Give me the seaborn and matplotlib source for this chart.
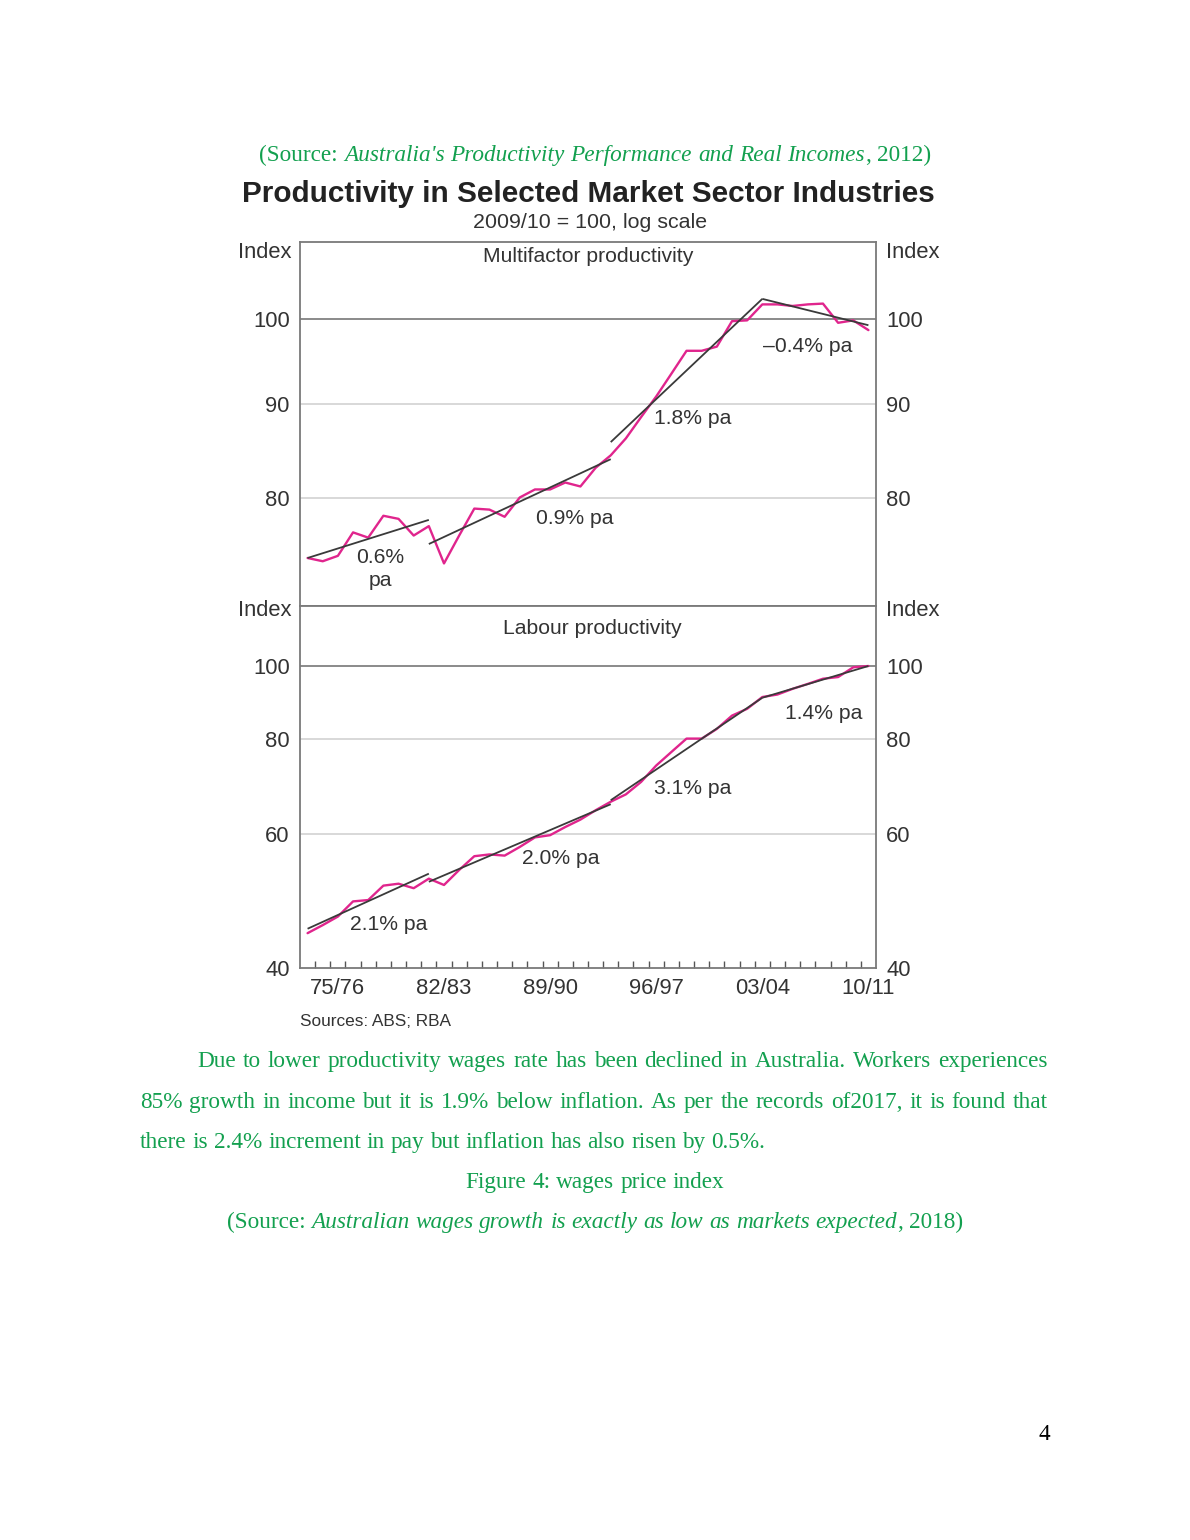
import numpy as np
import pandas as pd
import matplotlib
matplotlib.use("Agg")
import matplotlib.pyplot as plt
import seaborn as sns
from matplotlib.ticker import NullLocator

# ---------------- data ----------------
years = list(range(1973, 2011))          # fiscal-year start: 73/74 ... 10/11
mfp = [74.3, 74.0, 74.5, 76.7, 76.2, 78.3, 78.0, 76.4, 77.3, 73.8,
       76.4, 79.0, 78.9, 78.2, 80.1, 80.9, 80.9, 81.6, 81.2, 83.1,
       84.4, 86.2, 88.5, 90.8, 93.4, 96.1, 96.1, 96.6, 99.7, 99.8,
       101.8, 101.8, 101.6, 101.8, 101.9, 99.5, 99.8, 98.6]
labour = [44.4, 45.5, 46.7, 48.9, 49.1, 51.3, 51.6, 50.9, 52.4, 51.4,
          53.8, 56.1, 56.4, 56.2, 57.7, 59.4, 59.8, 61.3, 62.7, 64.5,
          66.2, 67.7, 70.3, 73.9, 77.0, 80.2, 80.2, 82.6, 86.0, 87.8,
          91.0, 91.7, 93.3, 94.7, 96.2, 96.7, 99.6, 100.0]

mfp_trend_start = [1973, 1981, 1993, 2003]
mfp_trend_end = [1981, 1993, 2003, 2010]
mfp_trend_v0 = [74.3, 75.6, 85.8, 102.5]
mfp_trend_v1 = [77.9, 84.0, 102.5, 99.2]
mfp_trend_labels = ["0.6%\npa", "0.9% pa", "1.8% pa", "\u20130.4% pa"]

lab_trend_start = [1973, 1981, 1993, 2003]
lab_trend_end = [1981, 1993, 2003, 2010]
lab_trend_v0 = [45.0, 51.9, 66.5, 90.8]
lab_trend_v1 = [53.2, 65.7, 90.8, 100.0]
lab_trend_labels = ["2.1% pa", "2.0% pa", "3.1% pa", "1.4% pa"]

mfp_yticks = [80, 90, 100]
lab_yticks = [40, 60, 80, 100]
xtick_years = [1975, 1982, 1989, 1996, 2003, 2010]
xtick_labels = ["75/76", "82/83", "89/90", "96/97", "03/04", "10/11"]

# ---------------- style ----------------
sns.set_theme(style="white")
plt.rcParams["font.family"] = ["Liberation Sans", "DejaVu Sans"]

W, H = 1190, 1540
fig = plt.figure(figsize=(W / 100, H / 100), dpi=100)
fig.patch.set_facecolor("white")
renderer = fig.canvas.get_renderer()

GREEN = "#13a04f"
PINK = "#e0258d"
DARK = "#333333"
FRAME = "#7a7a7a"


def px(x, y):
    return x / W, 1 - y / H


def wid(t):
    return t.get_window_extent(renderer).width


def fit(s, x, y, target_w, ha="center", va="center", **kw):
    t = fig.text(*px(x, y), s, ha=ha, va=va, fontsize=10, **kw)
    t.set_fontsize(10 * target_w / wid(t))
    return t


# ---------------- axes ----------------
L, R = 300, 876
ax1 = fig.add_axes([L / W, 1 - 606 / H, (R - L) / W, (606 - 242) / H])
ax2 = fig.add_axes([L / W, 1 - 967.5 / H, (R - L) / W, (967.5 - 606) / H])

df = pd.DataFrame({"year": years, "mfp": mfp, "labour": labour})

TICK_FS = 15.8
for ax, col, yt, ylim, t0, t1, v0, v1 in [
    (ax1, "mfp", mfp_yticks, (70, 110), mfp_trend_start, mfp_trend_end, mfp_trend_v0, mfp_trend_v1),
    (ax2, "labour", lab_yticks, (40, 120), lab_trend_start, lab_trend_end, lab_trend_v0, lab_trend_v1),
]:
    ax.set_facecolor("white")
    ax.set_yscale("log")
    for v in yt:
        if v == 100:
            ax.axhline(v, color="#8a8a8a", lw=1.4, zorder=0)
        elif v != ylim[0]:
            ax.axhline(v, color="#d6d6d6", lw=1.3, zorder=0)
    sns.lineplot(data=df, x="year", y=col, ax=ax, color=PINK, lw=1.7, zorder=2)
    for a, b, c, d in zip(t0, t1, v0, v1):
        ax.plot([a, b], [c, d], color="#3a3a3a", lw=1.3, zorder=3, solid_capstyle="butt")
    ax.set_xlim(1972.5, 2010.5)
    ax.set_ylim(*ylim)
    ax.set_yticks(yt, labels=[str(v) for v in yt])
    ax.yaxis.set_minor_locator(NullLocator())
    ax.tick_params(axis="y", which="both", left=False, right=False, length=0,
                   labelleft=True, labelright=True, labelsize=TICK_FS,
                   labelcolor=DARK, pad=7.3)
    ax.set_xlabel("")
    ax.set_ylabel("")
    for s in ax.spines.values():
        s.set_color(FRAME)
        s.set_linewidth(1.3)
        s.set_visible(True)

ax1.tick_params(axis="x", which="both", bottom=False, labelbottom=False)
ax2.set_xticks(xtick_years, labels=xtick_labels)
ax2.set_xticks(np.arange(years[0] + 0.5, years[-1], 1.0), minor=True)
ax2.tick_params(axis="x", which="major", length=0, labelsize=TICK_FS,
                labelcolor=DARK, pad=7.5)
ax2.tick_params(axis="x", which="minor", direction="in", length=5,
                width=1.0, color="#555555", bottom=True)

# ---------------- chart texts ----------------
fit("Productivity in Selected Market Sector Industries", 588, 194, 694,
    fontweight="bold", color="#222222")
fit("2009/10 = 100, log scale", 590, 223, 234, color=DARK)
sub = fit("Multifactor productivity", 588, 256, 211, color=DARK)
LAB_FS = sub.get_fontsize()
fig.text(*px(592, 628), "Labour productivity", ha="center", va="center",
         fontsize=LAB_FS, color=DARK)

for s, (x, y) in zip(mfp_trend_labels, [(380, 569), (575, 518), (693, 419), (808, 346)]):
    fig.text(*px(x, y), s, ha="center", va="center", fontsize=LAB_FS,
             color=DARK, linespacing=1.3)
for s, (x, y) in zip(lab_trend_labels, [(389, 924), (561, 858), (693, 789), (824, 713)]):
    fig.text(*px(x, y), s, ha="center", va="center", fontsize=LAB_FS, color=DARK)

for y in (253, 610):
    fig.text(*px(292, y), "Index", ha="right", va="center", fontsize=TICK_FS, color=DARK)
    fig.text(*px(886, y), "Index", ha="left", va="center", fontsize=TICK_FS, color=DARK)

fit("Sources: ABS; RBA", 300, 1022, 151, ha="left", color=DARK)

# ---------------- document texts ----------------
SERIF = ["Liberation Serif", "DejaVu Serif"]
probe = fig.text(0, 0, "there is 2.4% increment in pay but inflation has also risen by 0.5%.",
                 fontsize=10, family=SERIF)
DOC_FS = 10 * 626 / wid(probe)
probe.remove()


def space_w(style="normal"):
    a = fig.text(0, 0, "a a", fontsize=DOC_FS, family=SERIF, style=style)
    b = fig.text(0, 0, "aa", fontsize=DOC_FS, family=SERIF, style=style)
    w = wid(a) - wid(b)
    a.remove()
    b.remove()
    return w


SP = space_w()


def parse(segments):
    words = [[]]
    for text, st in segments:
        parts = text.split(" ")
        for i, p in enumerate(parts):
            if i > 0:
                words.append([])
            if p:
                words[-1].append((p, st))
    return [w for w in words if w]


def place_line(segments, y, x0=None, x1=None, center=None, justify=False,
               color=GREEN):
    """y is the baseline in pixels."""
    words = parse(segments)
    objs = []
    widths = []
    for w in words:
        pieces = []
        tw = 0
        for p, st in w:
            t = fig.text(0, 0, p, fontsize=DOC_FS, family=SERIF, style=st,
                         color=color, ha="left", va="baseline")
            pw = wid(t)
            pieces.append((t, pw))
            tw += pw
        objs.append(pieces)
        widths.append(tw)
    n = len(words)
    if justify and n > 1:
        gap = (x1 - x0 - sum(widths)) / (n - 1)
    else:
        gap = SP
    total = sum(widths) + gap * (n - 1)
    x = x0 if center is None else center - total / 2
    for pieces, tw in zip(objs, widths):
        xx = x
        for t, pw in pieces:
            t.set_position(px(xx, y))
            xx += pw
        x += tw + gap


place_line([("(Source: ", "normal"),
            ("Australia's Productivity Performance and Real Incomes", "italic"),
            (", 2012)", "normal")], 161, center=595)

place_line([("Due to lower productivity wages rate has been declined in Australia. Workers experiences", "normal")],
           1067, x0=197, x1=1048, justify=True)
place_line([("85% growth in income but it is 1.9% below inflation. As per the records of2017, it is found that", "normal")],
           1108, x0=140, x1=1048, justify=True)
place_line([("there is 2.4% increment in pay but inflation has also risen by 0.5%.", "normal")],
           1148, x0=140)
place_line([("Figure 4: wages price index", "normal")], 1188, center=595)
place_line([("(Source: ", "normal"),
            ("Australian wages growth is exactly as low as markets expected", "italic"),
            (", 2018)", "normal")], 1228, center=595)

fig.text(*px(1044, 1440), "4", ha="center", va="baseline", fontsize=DOC_FS,
         family=SERIF, color="black")

fig.savefig("out.png", dpi=100, facecolor="white")
